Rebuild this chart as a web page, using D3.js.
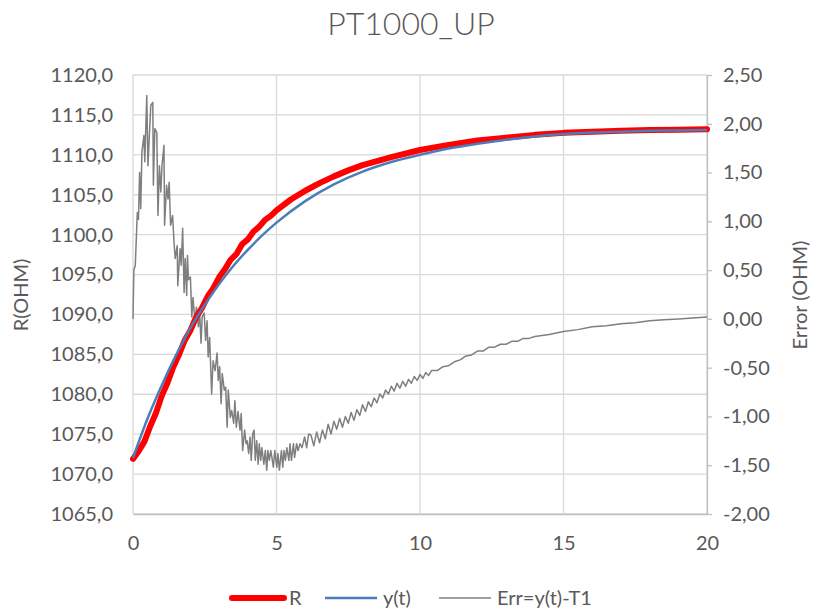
<!DOCTYPE html>
<html>
<head>
<meta charset="utf-8">
<script src="https://cdn.jsdelivr.net/npm/d3@7"></script>
<style>
  body { margin: 0; background: #fff; }
  text { font-family: Lato, "Open Sans", sans-serif; fill: #595959; }
</style>
</head>
<body>
<div id="chart"></div>
<script>
// time in seconds, R measured, y(t) model, Err = y(t) - T1
const rTime = [0, 0.2, 0.4, 0.6, 0.8, 1.0, 1.2, 1.4, 1.6, 1.8, 2.0, 2.2, 2.4, 2.6, 2.8, 3.0, 3.2, 3.4, 3.6, 3.8,
  4.0, 4.2, 4.4, 4.6, 4.8, 5.0, 5.5, 6, 6.5, 7, 7.5, 8, 9, 10, 11, 12, 13, 14, 15, 16, 17, 18, 19, 20];
const rValues = [1071.9, 1072.9, 1074.1, 1076.0, 1077.65, 1079.8, 1081.4, 1083.4, 1084.95, 1086.75, 1088.0,
  1089.65, 1090.8, 1092.25, 1093.3, 1094.65, 1095.65, 1096.85, 1097.55, 1098.8, 1099.4, 1100.4, 1101.0,
  1101.85, 1102.35, 1103.05, 1104.4, 1105.5, 1106.45, 1107.3, 1108.05, 1108.7, 1109.7, 1110.6, 1111.25,
  1111.8, 1112.15, 1112.5, 1112.75, 1112.9, 1113.0, 1113.1, 1113.15, 1113.2];

const yTime = [0, 0.5, 1, 1.5, 2, 2.5, 3, 3.5, 4, 4.5, 5, 6, 7, 8, 9, 10, 11, 12, 13, 14, 15, 16, 17, 18, 19, 20];
const yValues = [1072.0, 1076.9, 1081.1, 1084.9, 1088.3, 1091.2, 1093.8, 1096.1, 1098.1, 1099.9, 1101.5,
  1104.2, 1106.3, 1107.9, 1109.1, 1110.0, 1110.8, 1111.4, 1111.9, 1112.3, 1112.6, 1112.8, 1112.9, 1113.0,
  1113.05, 1113.1];

const errTime = [0, 0.03, 0.08, 0.15, 0.19, 0.23, 0.27, 0.31, 0.38, 0.41, 0.48, 0.52, 0.62, 0.69, 0.71, 0.76,
  0.83, 0.87, 0.92, 0.97, 1.01, 1.08, 1.10, 1.17, 1.22, 1.26, 1.31, 1.38, 1.43, 1.47, 1.54, 1.56, 1.64, 1.68,
  1.73, 1.78, 1.82, 1.87, 1.90, 1.93, 2.00, 2.05, 2.09, 2.16, 2.21, 2.28, 2.32, 2.37, 2.41, 2.48, 2.53, 2.58,
  2.62, 2.67, 2.74, 2.79, 2.86, 2.93, 2.97, 3.02, 3.07, 3.11, 3.18, 3.23, 3.28, 3.32, 3.39, 3.44, 3.51, 3.55,
  3.60, 3.66, 3.73, 3.77, 3.82, 3.89, 3.94, 3.98, 4.03, 4.08, 4.12, 4.17, 4.22, 4.26, 4.31, 4.36, 4.40, 4.45,
  4.49, 4.56, 4.61, 4.66, 4.70, 4.75, 4.80, 4.84, 4.89, 4.94, 5.01, 5.05, 5.10, 5.17, 5.22, 5.26, 5.31, 5.36,
  5.43, 5.47, 5.52, 5.59, 5.63, 5.70, 5.75, 5.82, 5.89, 5.98, 6.05, 6.12,
  6.2, 6.3, 6.4, 6.5, 6.6, 6.7, 6.8, 6.9, 7.0, 7.1, 7.2, 7.3, 7.4, 7.5, 7.6, 7.7, 7.8, 7.9, 8.0, 8.1, 8.2,
  8.3, 8.4, 8.5, 8.6, 8.7, 8.8, 8.9, 9.0, 9.1, 9.2, 9.3, 9.4, 9.5, 9.6, 9.7, 9.8, 9.9, 10.0, 10.1, 10.2,
  10.3, 10.4, 10.6, 10.8, 11.0, 11.2, 11.4, 11.6, 11.8, 12.0, 12.2, 12.4, 12.6, 12.8, 13.0, 13.2, 13.4,
  13.6, 13.8, 14.0, 14.5, 15.0, 15.5, 16.0, 16.5, 17.0, 17.5, 18.0, 18.5, 19.0, 19.5, 20.0];
const errValues = [0.00, 0.50, 0.55, 1.09, 1.02, 1.50, 1.13, 1.71, 1.88, 1.61, 2.29, 1.57, 2.19, 2.22, 1.37,
  1.95, 1.91, 1.06, 1.57, 1.30, 1.57, 1.78, 0.96, 1.37, 1.23, 1.40, 0.96, 1.06, 0.78, 0.62, 0.75, 0.34, 0.72,
  0.55, 0.93, 0.27, 0.62, 0.24, 0.65, 0.40, 0.43, 0.02, 0.22, -0.02, 0.12, -0.08, 0.09, -0.25, 0.02, 0.06,
  -0.22, -0.02, -0.39, -0.19, -0.77, -0.43, -0.53, -0.35, -0.63, -0.49, -0.87, -0.56, -0.73, -0.70, -1.11,
  -0.73, -1.01, -0.94, -1.07, -0.84, -1.11, -0.95, -1.14, -0.97, -1.35, -1.14, -1.28, -1.25, -1.38, -1.21,
  -1.45, -1.18, -1.14, -1.45, -1.25, -1.49, -1.28, -1.45, -1.32, -1.49, -1.35, -1.55, -1.35, -1.45, -1.35,
  -1.42, -1.52, -1.35, -1.52, -1.38, -1.55, -1.35, -1.52, -1.35, -1.45, -1.32, -1.45, -1.28, -1.45, -1.28,
  -1.42, -1.28, -1.35, -1.28, -1.32, -1.21, -1.32, -1.18,
  -1.19, -1.30, -1.16, -1.27, -1.14, -1.23, -1.08, -1.18, -1.05, -1.13, -1.02, -1.11, -1.00, -1.07, -0.96,
  -1.04, -0.93, -0.99, -0.88, -0.95, -0.85, -0.90, -0.81, -0.86, -0.77, -0.81, -0.73, -0.77, -0.69, -0.74,
  -0.66, -0.71, -0.64, -0.69, -0.62, -0.66, -0.59, -0.63, -0.57, -0.61, -0.55, -0.58, -0.53, -0.53, -0.49,
  -0.48, -0.44, -0.42, -0.38, -0.37, -0.33, -0.33, -0.29, -0.29, -0.26, -0.26, -0.23, -0.23, -0.20, -0.20,
  -0.18, -0.16, -0.13, -0.11, -0.08, -0.07, -0.05, -0.04, -0.02, -0.01, 0.00, 0.01, 0.02];

const xTicks = [0, 5, 10, 15, 20];
const leftTicks = [1065, 1070, 1075, 1080, 1085, 1090, 1095, 1100, 1105, 1110, 1115, 1120];
const rightTicks = [-2, -1.5, -1, -0.5, 0, 0.5, 1, 1.5, 2, 2.5];

const width = 817;
const height = 611;
const margin = { top: 75, right: 110, bottom: 97, left: 133 };
const plotW = width - margin.left - margin.right;
const plotH = height - margin.top - margin.bottom;

const comma = (n, d) => n.toFixed(d).replace('.', ',');

let x = d3.scaleLinear().domain([0, 20]).range([0, plotW]);
let yLeft = d3.scaleLinear().domain([1065, 1120]).range([plotH, 0]);
let yRight = d3.scaleLinear().domain([-2, 2.5]).range([plotH, 0]);

let svg = d3.select('#chart').append('svg')
  .attr('width', width)
  .attr('height', height);

svg.append('text')
  .attr('x', 411)
  .attr('y', 35)
  .attr('text-anchor', 'middle')
  .style('font-size', '32px')
  .style('font-weight', 300)
  .text('PT1000_UP');

let chart = svg.append('g')
  .attr('transform', `translate(${margin.left}, ${margin.top})`);

// grid
chart.append('g').selectAll('line').data(leftTicks).enter().append('line')
  .attr('x1', 0).attr('x2', plotW)
  .attr('y1', d => yLeft(d)).attr('y2', d => yLeft(d))
  .attr('stroke', '#d9d9d9').attr('stroke-width', 1.3);

chart.append('g').selectAll('line').data(xTicks).enter().append('line')
  .attr('x1', d => x(d)).attr('x2', d => x(d))
  .attr('y1', 0).attr('y2', plotH)
  .attr('stroke', '#d9d9d9').attr('stroke-width', 1.3);

// axes
let xAxis = chart.append('g')
  .attr('transform', `translate(0, ${plotH})`)
  .call(d3.axisBottom(x).tickValues(xTicks).tickSize(0).tickPadding(22));
xAxis.select('.domain').attr('stroke', '#bfbfbf').attr('stroke-width', 1.3);

let leftAxis = chart.append('g')
  .call(d3.axisLeft(yLeft).tickValues(leftTicks).tickSize(0).tickPadding(20).tickFormat(d => comma(d, 1)));
leftAxis.select('.domain').remove();

let rightAxis = chart.append('g')
  .attr('transform', `translate(${plotW}, 0)`)
  .call(d3.axisRight(yRight).tickValues(rightTicks).tickSize(5).tickSizeOuter(0).tickPadding(11).tickFormat(d => comma(d, 2)));
rightAxis.select('.domain').attr('stroke', '#bfbfbf').attr('stroke-width', 1.3);
rightAxis.selectAll('.tick line').attr('stroke', '#bfbfbf').attr('stroke-width', 1.3);

chart.selectAll('.tick text')
  .style('font-size', '20px')
  .style('font-family', 'Lato, sans-serif')
  .attr('fill', '#595959');

// series
let errLine = d3.line()
  .x((d, i) => x(errTime[i]))
  .y(d => yRight(d));

let yLine = d3.line()
  .x((d, i) => x(yTime[i]))
  .y(d => yLeft(d))
  .curve(d3.curveMonotoneX);

let rLine = d3.line()
  .x((d, i) => x(rTime[i]))
  .y(d => yLeft(d));

chart.append('path').datum(errValues)
  .attr('d', errLine)
  .attr('fill', 'none')
  .attr('stroke', '#7f7f7f')
  .attr('stroke-width', 1.5)
  .attr('stroke-linejoin', 'round');

chart.append('path').datum(rValues)
  .attr('d', rLine)
  .attr('fill', 'none')
  .attr('stroke', '#ff0000')
  .attr('stroke-width', 6)
  .attr('stroke-linejoin', 'round')
  .attr('stroke-linecap', 'round');

chart.append('path').datum(yValues)
  .attr('d', yLine)
  .attr('fill', 'none')
  .attr('stroke', '#4a7ebb')
  .attr('stroke-width', 2.5);

// axis titles
svg.append('text')
  .attr('transform', 'translate(28, 295) rotate(-90)')
  .attr('text-anchor', 'middle')
  .style('font-size', '20px')
  .text('R(OHM)');

svg.append('text')
  .attr('transform', 'translate(807, 295) rotate(-90)')
  .attr('text-anchor', 'middle')
  .style('font-size', '20px')
  .text('Error (OHM)');

// legend
const legendItems = [
  { label: 'R', color: '#ff0000', width: 6, x1: 232, x2: 284, tx: 289 },
  { label: 'y(t)', color: '#4a7ebb', width: 2.5, x1: 325, x2: 377, tx: 383 },
  { label: 'Err=y(t)-T1', color: '#7f7f7f', width: 1.5, x1: 439, x2: 491, tx: 497 }
];

let legend = svg.append('g');
legend.selectAll('line').data(legendItems).enter().append('line')
  .attr('x1', d => d.x1).attr('x2', d => d.x2)
  .attr('y1', 598).attr('y2', 598)
  .attr('stroke', d => d.color)
  .attr('stroke-width', d => d.width)
  .attr('stroke-linecap', d => d.width > 3 ? 'round' : 'butt');

legend.selectAll('text').data(legendItems).enter().append('text')
  .attr('x', d => d.tx)
  .attr('y', 605)
  .style('font-size', '20px')
  .text(d => d.label);
</script>
</body>
</html>
